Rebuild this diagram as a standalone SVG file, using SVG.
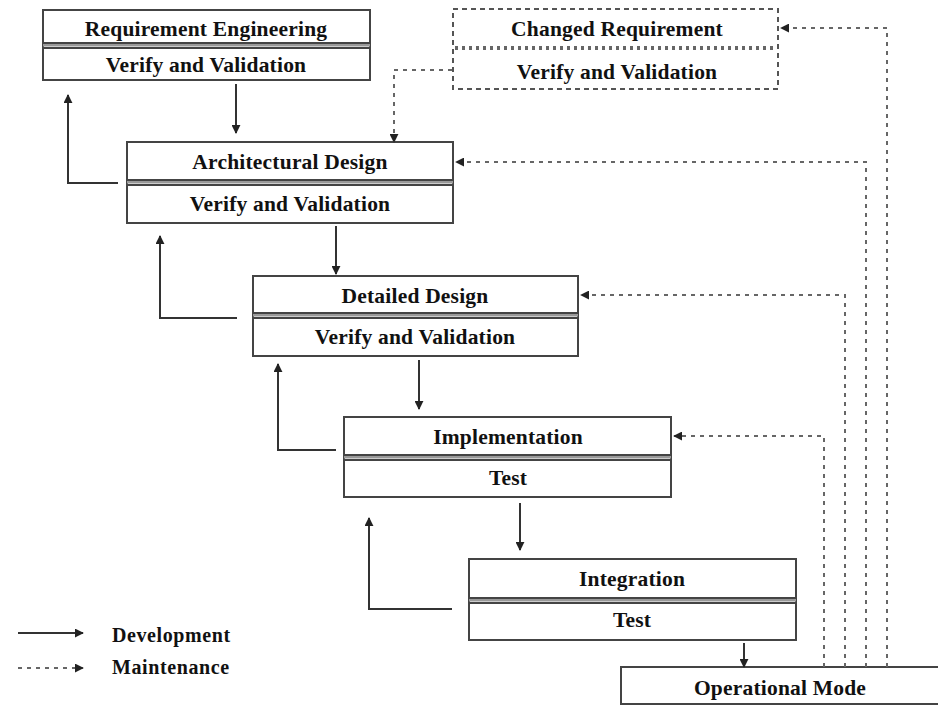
<svg xmlns="http://www.w3.org/2000/svg" width="938" height="706" viewBox="0 0 938 706">
<style>
.box{fill:#fff;stroke:#444;stroke-width:2}
.dbox{fill:#fff;stroke:#555;stroke-width:2;stroke-dasharray:5,4}
.div{stroke:#444;stroke-width:2}
.divfill{stroke:#999;stroke-width:3}
.ddiv{stroke:#666;stroke-width:4;stroke-dasharray:3,4}
.t{font-family:"Liberation Serif","Times New Roman",serif;font-weight:bold;font-size:21.5px;fill:#111;text-anchor:middle;letter-spacing:0.2px}
.lt{font-family:"Liberation Serif","Times New Roman",serif;font-weight:bold;font-size:20px;fill:#111;letter-spacing:0.6px}
.dev{fill:none;stroke:#333;stroke-width:2}
.mnt{fill:none;stroke:#666;stroke-width:2;stroke-dasharray:4,5}
</style>
<defs>
<marker id="ah" viewBox="0 0 10 10" refX="9" refY="5" markerWidth="9" markerHeight="9" markerUnits="userSpaceOnUse" orient="auto">
<path d="M0,0 L10,5 L0,10 z" fill="#222"/>
</marker>
</defs>

<g id="requirement-engineering">
<rect class="box" x="43" y="10" width="327" height="70"/>
<line class="divfill" x1="43" y1="45" x2="370" y2="45"/>
<line class="div" x1="43" y1="43" x2="370" y2="43"/>
<line class="div" x1="43" y1="48" x2="370" y2="48"/>
<text class="t" x="206" y="36">Requirement Engineering</text>
<text class="t" x="206" y="72">Verify and Validation</text>
</g>

<g id="changed-requirement">
<rect class="dbox" x="453" y="9" width="325" height="80"/>
<line class="ddiv" x1="455" y1="48" x2="776" y2="48"/>
<text class="t" x="617" y="36">Changed Requirement</text>
<text class="t" x="617" y="79">Verify and Validation</text>
</g>

<g id="architectural-design">
<rect class="box" x="127" y="142" width="326" height="81"/>
<line class="divfill" x1="127" y1="182" x2="453" y2="182"/>
<line class="div" x1="127" y1="180" x2="453" y2="180"/>
<line class="div" x1="127" y1="185" x2="453" y2="185"/>
<text class="t" x="290" y="169">Architectural Design</text>
<text class="t" x="290" y="211">Verify and Validation</text>
</g>

<g id="detailed-design">
<rect class="box" x="253" y="276" width="325" height="80"/>
<line class="divfill" x1="253" y1="315" x2="578" y2="315"/>
<line class="div" x1="253" y1="313" x2="578" y2="313"/>
<line class="div" x1="253" y1="318" x2="578" y2="318"/>
<text class="t" x="415" y="303">Detailed Design</text>
<text class="t" x="415" y="344">Verify and Validation</text>
</g>

<g id="implementation">
<rect class="box" x="344" y="417" width="327" height="80"/>
<line class="divfill" x1="344" y1="457" x2="671" y2="457"/>
<line class="div" x1="344" y1="455" x2="671" y2="455"/>
<line class="div" x1="344" y1="460" x2="671" y2="460"/>
<text class="t" x="508" y="444">Implementation</text>
<text class="t" x="508" y="485">Test</text>
</g>

<g id="integration">
<rect class="box" x="469" y="559" width="327" height="81"/>
<line class="divfill" x1="469" y1="600" x2="796" y2="600"/>
<line class="div" x1="469" y1="598" x2="796" y2="598"/>
<line class="div" x1="469" y1="603" x2="796" y2="603"/>
<text class="t" x="632" y="586">Integration</text>
<text class="t" x="632" y="627">Test</text>
</g>

<g id="operational-mode">
<rect class="box" x="621" y="667" width="330" height="37"/>
<text class="t" x="780" y="695">Operational Mode</text>
</g>

<g id="connectors">
<line class="dev" x1="236" y1="84" x2="236" y2="133" marker-end="url(#ah)"/>
<line class="dev" x1="336" y1="226" x2="336" y2="274" marker-end="url(#ah)"/>
<line class="dev" x1="419" y1="360" x2="419" y2="409" marker-end="url(#ah)"/>
<line class="dev" x1="520" y1="503" x2="520" y2="550" marker-end="url(#ah)"/>
<line class="dev" x1="744" y1="643" x2="744" y2="667" marker-end="url(#ah)"/>
<polyline class="dev" points="118,183 68,183 68,95" marker-end="url(#ah)"/>
<polyline class="dev" points="237,318 160,318 160,236" marker-end="url(#ah)"/>
<polyline class="dev" points="336,450 278,450 278,364" marker-end="url(#ah)"/>
<polyline class="dev" points="452,609 369,609 369,518" marker-end="url(#ah)"/>
<polyline class="mnt" points="452,70 394,70 394,142" marker-end="url(#ah)"/>
<polyline class="mnt" points="887,667 887,28 781,28" marker-end="url(#ah)"/>
<polyline class="mnt" points="866,667 866,162 456,162" marker-end="url(#ah)"/>
<polyline class="mnt" points="845,667 845,295 581,295" marker-end="url(#ah)"/>
<polyline class="mnt" points="824,667 824,436 674,436" marker-end="url(#ah)"/>
</g>

<g id="legend">
<line class="dev" x1="18" y1="633" x2="83" y2="633" marker-end="url(#ah)"/>
<line class="mnt" x1="18" y1="668" x2="83" y2="668" marker-end="url(#ah)"/>
<text class="lt" x="112" y="642">Development</text>
<text class="lt" x="112" y="674">Maintenance</text>
</g>
</svg>
